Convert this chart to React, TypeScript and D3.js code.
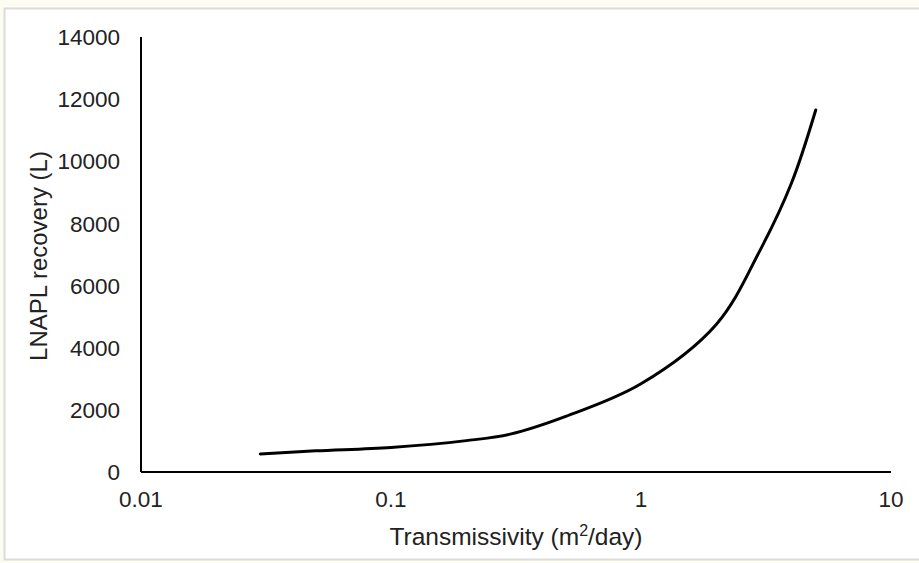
import { useEffect, useRef } from 'react';
import * as d3 from 'd3';

const transmissivity = [0.03, 0.05, 0.1, 0.2, 0.3, 0.5, 1, 2, 3, 4, 5];
const recovery = [580, 680, 790, 1010, 1220, 1790, 2840, 4750, 7150, 9300, 11650];
const xTicks = [0.01, 0.1, 1, 10];
const yTicks = [0, 2000, 4000, 6000, 8000, 10000, 12000, 14000];

const WIDTH = 919;
const HEIGHT = 563;
const FONT = '"Liberation Sans", Arial, sans-serif';

export default function App() {
  const svgRef = useRef<SVGSVGElement>(null);

  useEffect(() => {
    if (!svgRef.current) return;
    document.body.style.margin = '0';

    const svg = d3.select(svgRef.current);
    svg.selectAll('*').remove();

    // page background + white panel
    svg.append('rect').attr('width', WIDTH).attr('height', HEIGHT).attr('fill', '#fcfcf3');
    svg.append('rect')
      .attr('x', 4.5).attr('y', 8.5)
      .attr('width', WIDTH).attr('height', 551)
      .attr('fill', '#fff')
      .attr('stroke', '#dcdcdc')
      .attr('stroke-width', 2);

    const x = d3.scaleLog().domain([0.01, 10]).range([141, 891]);
    const y = d3.scaleLinear().domain([0, 14000]).range([472, 37]);

    // axes
    svg.append('line')
      .attr('x1', x(0.01)).attr('x2', x(0.01))
      .attr('y1', y(14000)).attr('y2', y(0))
      .attr('stroke', '#000').attr('stroke-width', 2);
    svg.append('line')
      .attr('x1', x(0.01)).attr('x2', x(10))
      .attr('y1', y(0)).attr('y2', y(0))
      .attr('stroke', '#000').attr('stroke-width', 2);

    svg.append('g')
      .selectAll('text')
      .data(yTicks)
      .join('text')
      .attr('x', 120)
      .attr('y', d => y(d))
      .attr('dy', '0.36em')
      .attr('text-anchor', 'end')
      .attr('font-family', FONT)
      .attr('font-size', 22.5)
      .attr('fill', '#222')
      .text(d => d);

    svg.append('g')
      .selectAll('text')
      .data(xTicks)
      .join('text')
      .attr('x', d => x(d))
      .attr('y', 507)
      .attr('text-anchor', 'middle')
      .attr('font-family', FONT)
      .attr('font-size', 22.5)
      .attr('fill', '#222')
      .text(d => String(d));

    // curve
    const pts = transmissivity.map((t, i) => [t, recovery[i]] as [number, number]);
    const line = d3.line<[number, number]>()
      .x(d => x(d[0]))
      .y(d => y(d[1]))
      .curve(d3.curveCatmullRom.alpha(0.5));
    svg.append('path')
      .attr('d', line(pts) as string)
      .attr('fill', 'none')
      .attr('stroke', '#000')
      .attr('stroke-width', 3)
      .attr('stroke-linecap', 'round');

    // titles
    const xt = svg.append('text')
      .attr('x', 516)
      .attr('y', 545)
      .attr('text-anchor', 'middle')
      .attr('font-family', FONT)
      .attr('font-size', 24.5)
      .attr('fill', '#222');
    xt.append('tspan').text('Transmissivity (m');
    xt.append('tspan').attr('dy', -9).attr('font-size', 16).text('2');
    xt.append('tspan').attr('dy', 9).text('/day)');

    svg.append('text')
      .attr('transform', `translate(47, 256) rotate(-90)`)
      .attr('text-anchor', 'middle')
      .attr('font-family', FONT)
      .attr('font-size', 24)
      .attr('fill', '#222')
      .text('LNAPL recovery (L)');
  }, []);

  return <svg ref={svgRef} width={WIDTH} height={HEIGHT} style={{ display: 'block' }} />;
}
